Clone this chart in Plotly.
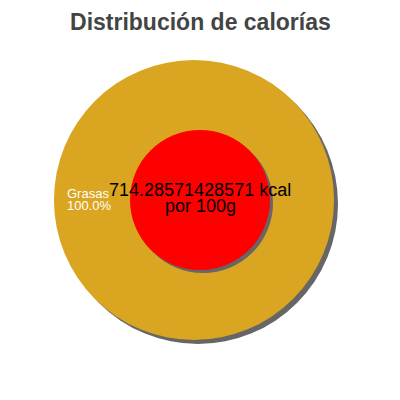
import plotly.graph_objects as go

# chart data
labels = ["Grasas"]
values = [100.0]
kcal_total = 714.28571428571
title_text = "Distribución de calorías"
unit_text = "por 100g"

GOLD = "#DAA520"
RED = "#FF0000"
SHADOW = "#666666"
FONT = "Liberation Sans, Arial"


def dom(cx, cy, r):
    # pixel centre/radius inside the 400x400 figure -> paper domain
    return {"x": [(cx - r) / 400, (cx + r) / 400],
            "y": [(400 - cy - r) / 400, (400 - cy + r) / 400]}


def px(x, y):
    return x / 400, (400 - y) / 400


fig = go.Figure()

# outer disc shadow
fig.add_trace(go.Pie(
    labels=labels, values=values, domain=dom(190, 196, 140),
    marker={"colors": [SHADOW], "line": {"width": 0}},
    textinfo="none", hoverinfo="skip", sort=False, showlegend=False,
))

# outer disc
fig.add_trace(go.Pie(
    labels=labels, values=values, domain=dom(186, 192, 140),
    marker={"colors": [GOLD], "line": {"width": 0}},
    textinfo="none", sort=False, showlegend=False,
))

# inner disc shadow
fig.add_trace(go.Pie(
    labels=["kcal"], values=[kcal_total], domain=dom(195, 195, 70),
    marker={"colors": [SHADOW], "line": {"width": 0}},
    textinfo="none", hoverinfo="skip", sort=False, showlegend=False,
))

# inner disc
fig.add_trace(go.Pie(
    labels=["kcal"], values=[kcal_total], domain=dom(192, 192, 70),
    marker={"colors": [RED], "line": {"width": 0}},
    textinfo="none", sort=False, showlegend=False,
))

# slice label
share = values[0] / sum(values)
for text, y in [(labels[0], 185.5), (f"{share:.1%}", 197.5)]:
    ax, ay = px(57, y)
    fig.add_annotation(
        x=ax, y=ay, xref="paper", yref="paper", showarrow=False,
        xanchor="left", yanchor="middle", text=text,
        font={"family": FONT, "size": 13, "color": "white"},
    )

# centre text
for text, y in [(f"{kcal_total} kcal", 181.8), (unit_text, 197.8)]:
    ax, ay = px(192, y)
    fig.add_annotation(
        x=ax, y=ay, xref="paper", yref="paper", showarrow=False,
        xanchor="center", yanchor="middle", text=text,
        font={"family": FONT, "size": 18, "color": "black"},
    )

fig.update_layout(
    width=400, height=400,
    margin={"l": 0, "r": 0, "t": 0, "b": 0},
    paper_bgcolor="white", plot_bgcolor="white",
    title={
        "text": f"<b>{title_text}</b>", "x": 0.481, "xanchor": "center",
        "y": 0.986, "yanchor": "top",
        "font": {"family": FONT, "size": 23, "color": "#444444"},
    },
)

fig.write_html("out.html")
